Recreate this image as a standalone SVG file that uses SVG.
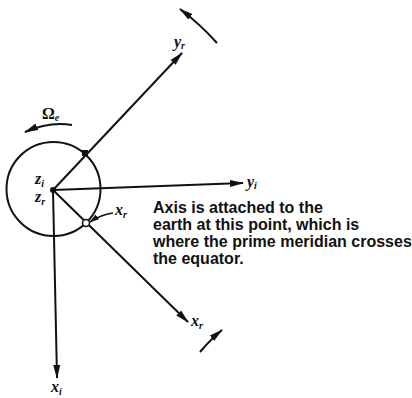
<svg xmlns="http://www.w3.org/2000/svg" width="412" height="398" viewBox="0 0 412 398">
<style>
.ax{stroke:#111;stroke-width:2;fill:none}
.thin{stroke:#111;stroke-width:1.5;fill:none}
.m{font-family:"Liberation Serif","DejaVu Serif",serif;font-style:italic;font-weight:bold;font-size:16px;fill:#111}
.sub{font-size:10px}
.note{font-family:"Liberation Sans",Arial,sans-serif;font-weight:bold;font-size:16px;fill:#111}
</style>
<defs>
<marker id="ah" viewBox="0 0 14 8" refX="13" refY="4" markerWidth="14" markerHeight="8" markerUnits="userSpaceOnUse" orient="auto">
<path d="M0,0.5 L14,4 L0,7.5 z" fill="#111"/>
</marker>
<marker id="ahs" viewBox="0 0 10 6" refX="9" refY="3" markerWidth="10" markerHeight="6" markerUnits="userSpaceOnUse" orient="auto">
<path d="M0,0 L10,3 L0,6 z" fill="#111"/>
</marker>
</defs>
<g id="earth">
<circle cx="53.5" cy="189" r="47" class="ax"/>
<circle cx="53" cy="190" r="3" fill="#111"/>
<text class="m" x="35" y="184">z<tspan class="sub" dy="3">i</tspan></text>
<text class="m" x="35" y="202">z<tspan class="sub" dy="3">r</tspan></text>
</g>
<g id="connectors">
<line x1="53" y1="190" x2="182" y2="53" class="ax" marker-end="url(#ah)"/>
<line x1="53" y1="190" x2="243" y2="183" class="ax" marker-end="url(#ah)"/>
<line x1="53" y1="190" x2="57" y2="378" class="ax" marker-end="url(#ah)"/>
<line x1="53" y1="190" x2="188" y2="322" class="ax" marker-end="url(#ah)"/>
<path d="M72,125 Q50,121 25,132" class="ax" marker-end="url(#ah)"/>
<path d="M217,43 Q200,24 180,9" class="ax" marker-end="url(#ah)"/>
<path d="M200,352 Q211,339 222,330" class="ax" marker-end="url(#ah)"/>
<path d="M113,213 Q100,215 90,222" class="thin" marker-end="url(#ahs)"/>
</g>
<g id="yr-point">
<rect x="82" y="150" width="6" height="6" fill="#111"/>
</g>
<g id="xr-point">
<circle cx="86" cy="223" r="3.5" fill="#fff" stroke="#111" stroke-width="1.5"/>
</g>
<g id="labels">
<text class="m" x="174" y="47">y<tspan class="sub" dy="2">r</tspan></text>
<text class="m" x="247" y="187">y<tspan class="sub" dy="2">i</tspan></text>
<text class="m" x="51" y="392">x<tspan class="sub" dy="3">i</tspan></text>
<text class="m" x="191" y="326">x<tspan class="sub" dy="3">r</tspan></text>
<text class="m" x="115" y="215">x<tspan class="sub" dy="3">r</tspan></text>
<text class="m" x="42" y="119" style="font-style:normal">Ω<tspan class="sub" dy="2" style="font-style:italic">e</tspan></text>
</g>
<g id="note">
<text class="note" x="153" y="213">Axis is attached to the</text>
<text class="note" x="153" y="230">earth at this point, which is</text>
<text class="note" x="153" y="247">where the prime meridian crosses</text>
<text class="note" x="153" y="264">the equator.</text>
</g>
</svg>
